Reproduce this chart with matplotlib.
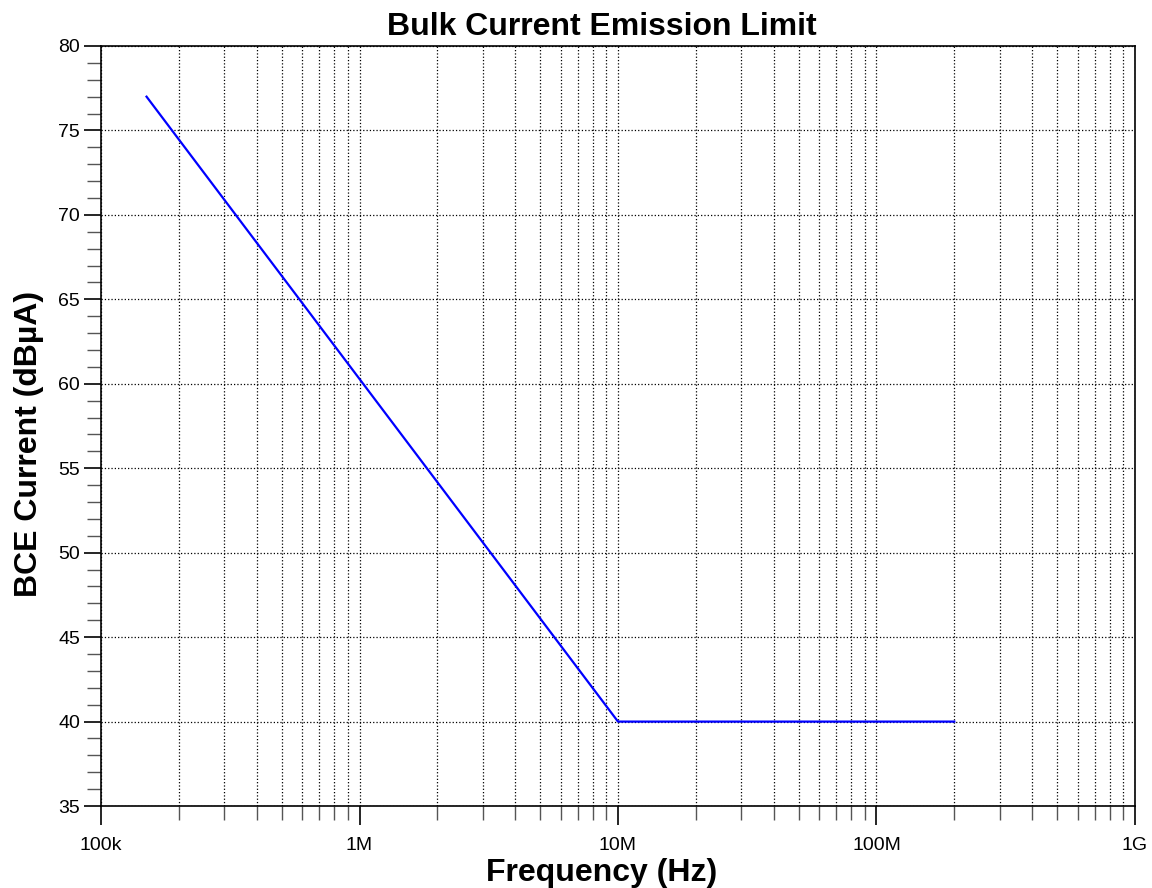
import matplotlib
matplotlib.use("Agg")
import matplotlib.pyplot as plt
from matplotlib.ticker import LogLocator, FixedLocator, MultipleLocator, NullFormatter

# Limit line breakpoints
freq_hz = [150e3, 10e6, 200e6]
limit_dbua = [77, 40, 40]

x_ticks = [1e5, 1e6, 1e7, 1e8, 1e9]
x_tick_labels = ["100k", "1M", "10M", "100M", "1G"]
y_ticks = [35, 40, 45, 50, 55, 60, 65, 70, 75, 80]

plt.rcParams["font.family"] = ["Liberation Sans", "DejaVu Sans"]

fig = plt.figure(figsize=(11.52, 8.88), dpi=100)
ax = fig.add_axes([0.0877, 0.0923, 0.8975, 0.8559])

ax.plot(freq_hz, limit_dbua, color="#0000ff", lw=1.6, zorder=3)

ax.set_xscale("log")
ax.set_xlim(1e5, 1e9)
ax.set_ylim(35, 80)

ax.xaxis.set_major_locator(FixedLocator(x_ticks))
ax.set_xticklabels(x_tick_labels)
ax.xaxis.set_minor_locator(LogLocator(base=10, subs=range(2, 10), numticks=50))
ax.xaxis.set_minor_formatter(NullFormatter())
ax.set_yticks(y_ticks)
ax.yaxis.set_minor_locator(MultipleLocator(1))

ax.grid(True, which="major", axis="both", color="black", linestyle=":", lw=0.9)
ax.grid(True, which="minor", axis="x", color="black", linestyle=":", lw=0.9)

ax.tick_params(axis="x", which="major", direction="out", length=14, width=1.2, labelsize=14, pad=8)
ax.tick_params(axis="x", which="minor", direction="out", length=10, width=1.0, color="#555555")
ax.tick_params(axis="y", which="major", direction="out", length=12, width=1.2, labelsize=14, pad=3)
ax.tick_params(axis="y", which="minor", direction="out", length=10, width=1.0, color="#555555")

for s in ax.spines.values():
    s.set_linewidth(1.2)

# labels in the source sit a little left of / below the axes centre
ax.set_title("Bulk Current Emission Limit", fontsize=23, fontweight="bold", pad=8, x=0.484)
ax.set_xlabel("Frequency (Hz)", fontsize=23, fontweight="bold", labelpad=3)
ax.xaxis.label.set_x(0.484)
ax.set_ylabel("BCE Current (dBµA)", fontsize=23, fontweight="bold", labelpad=10)
ax.yaxis.label.set_y(0.476)

fig.savefig("out.png", dpi=100)
